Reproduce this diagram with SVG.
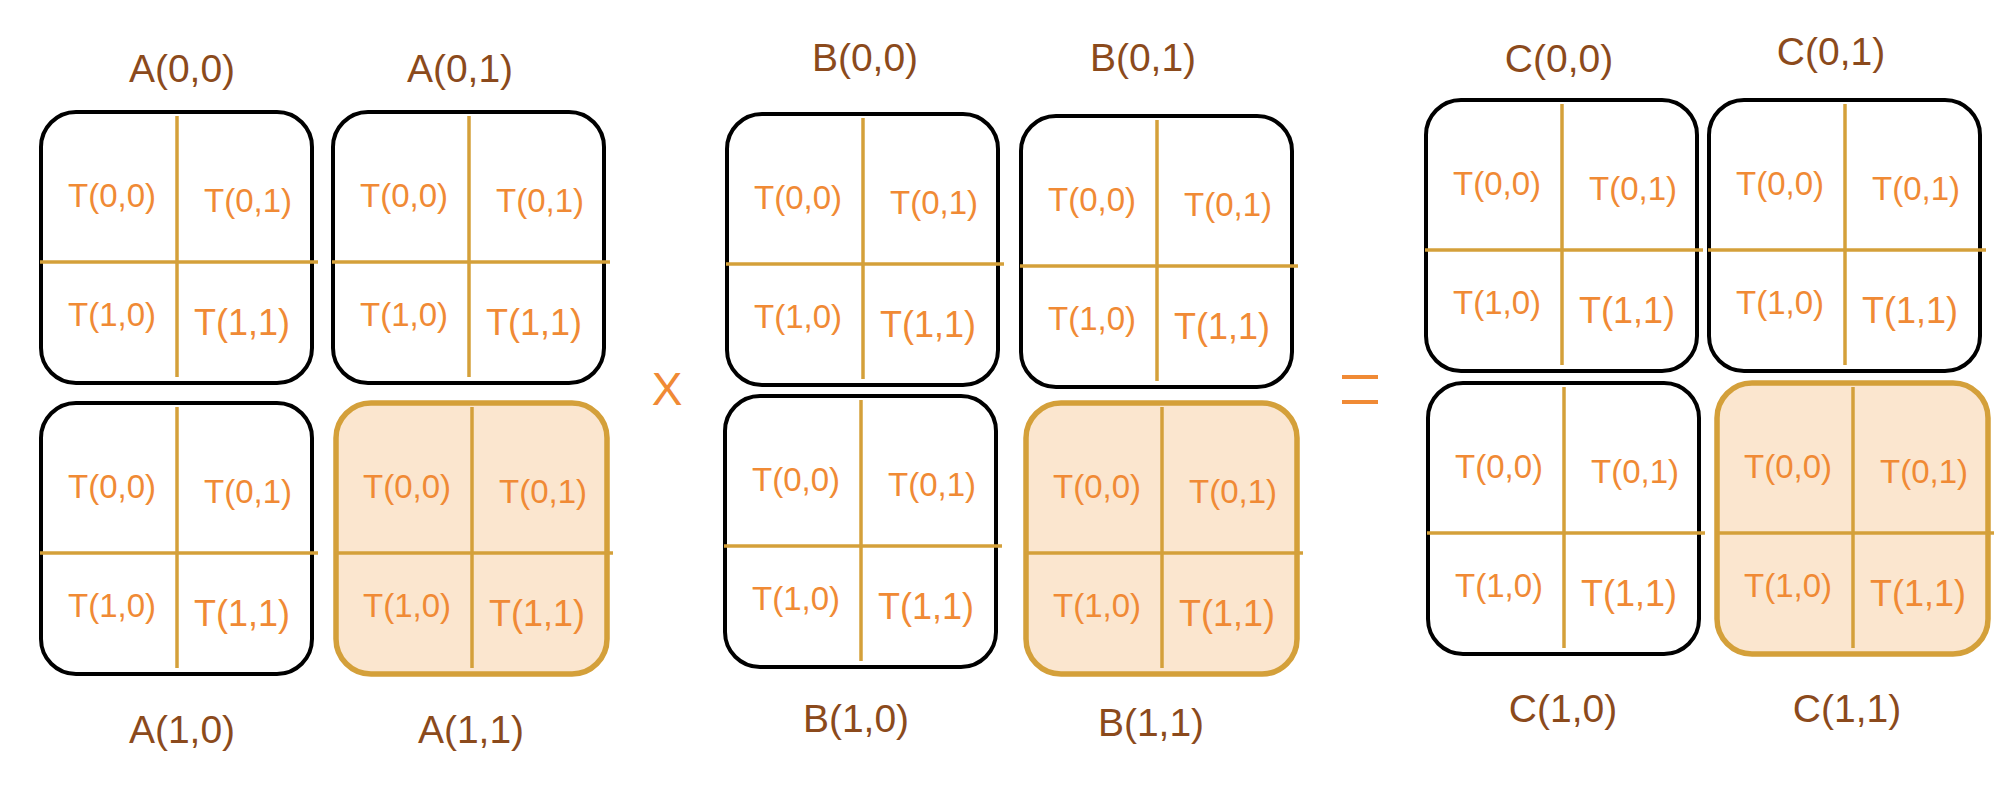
<svg xmlns="http://www.w3.org/2000/svg" width="2010" height="796" viewBox="0 0 2010 796">
<style>
.box{fill:#ffffff;stroke:#000000;stroke-width:4}
.hl .box{fill:#FBE6CF;stroke:#D4A03A;stroke-width:5.5}
.div{stroke:#D4A03A;stroke-width:3.5;fill:none}
.t{font-family:"Liberation Sans",Arial,Helvetica,sans-serif;font-size:33px;fill:#F08A35}
.t.big{font-size:36px}
.lbl{font-family:"Liberation Sans",Arial,Helvetica,sans-serif;font-size:39px;fill:#8B4A1C;text-anchor:middle}
.op{stroke:#F08A35;stroke-width:4;fill:none}
.opt{font-family:"Liberation Sans",Arial,Helvetica,sans-serif;font-size:46px;fill:#F08A35;text-anchor:middle}
</style>
<rect width="2010" height="796" fill="#ffffff"/>
<g id="connectors"></g>

<g id="A00" transform="translate(41,112)"><rect class="box" x="0" y="0" width="271" height="271" rx="35"/><line class="div" x1="136" y1="4" x2="136" y2="265"/><line class="div" x1="-1" y1="150" x2="277" y2="150"/><text class="t" x="27" y="95">T(0,0)</text><text class="t" x="163" y="100">T(0,1)</text><text class="t" x="27" y="214">T(1,0)</text><text class="t big" x="153" y="223">T(1,1)</text></g>
<g id="A01" transform="translate(333,112)"><rect class="box" x="0" y="0" width="271" height="271" rx="35"/><line class="div" x1="136" y1="4" x2="136" y2="265"/><line class="div" x1="-1" y1="150" x2="277" y2="150"/><text class="t" x="27" y="95">T(0,0)</text><text class="t" x="163" y="100">T(0,1)</text><text class="t" x="27" y="214">T(1,0)</text><text class="t big" x="153" y="223">T(1,1)</text></g>
<g id="A10" transform="translate(41,403)"><rect class="box" x="0" y="0" width="271" height="271" rx="35"/><line class="div" x1="136" y1="4" x2="136" y2="265"/><line class="div" x1="-1" y1="150" x2="277" y2="150"/><text class="t" x="27" y="95">T(0,0)</text><text class="t" x="163" y="100">T(0,1)</text><text class="t" x="27" y="214">T(1,0)</text><text class="t big" x="153" y="223">T(1,1)</text></g>
<g id="A11" class="hl" transform="translate(336,403)"><rect class="box" x="0" y="0" width="271" height="271" rx="35"/><line class="div" x1="136" y1="4" x2="136" y2="265"/><line class="div" x1="-1" y1="150" x2="277" y2="150"/><text class="t" x="27" y="95">T(0,0)</text><text class="t" x="163" y="100">T(0,1)</text><text class="t" x="27" y="214">T(1,0)</text><text class="t big" x="153" y="223">T(1,1)</text></g>

<g id="B00" transform="translate(727,114)"><rect class="box" x="0" y="0" width="271" height="271" rx="35"/><line class="div" x1="136" y1="4" x2="136" y2="265"/><line class="div" x1="-1" y1="150" x2="277" y2="150"/><text class="t" x="27" y="95">T(0,0)</text><text class="t" x="163" y="100">T(0,1)</text><text class="t" x="27" y="214">T(1,0)</text><text class="t big" x="153" y="223">T(1,1)</text></g>
<g id="B01" transform="translate(1021,116)"><rect class="box" x="0" y="0" width="271" height="271" rx="35"/><line class="div" x1="136" y1="4" x2="136" y2="265"/><line class="div" x1="-1" y1="150" x2="277" y2="150"/><text class="t" x="27" y="95">T(0,0)</text><text class="t" x="163" y="100">T(0,1)</text><text class="t" x="27" y="214">T(1,0)</text><text class="t big" x="153" y="223">T(1,1)</text></g>
<g id="B10" transform="translate(725,396)"><rect class="box" x="0" y="0" width="271" height="271" rx="35"/><line class="div" x1="136" y1="4" x2="136" y2="265"/><line class="div" x1="-1" y1="150" x2="277" y2="150"/><text class="t" x="27" y="95">T(0,0)</text><text class="t" x="163" y="100">T(0,1)</text><text class="t" x="27" y="214">T(1,0)</text><text class="t big" x="153" y="223">T(1,1)</text></g>
<g id="B11" class="hl" transform="translate(1026,403)"><rect class="box" x="0" y="0" width="271" height="271" rx="35"/><line class="div" x1="136" y1="4" x2="136" y2="265"/><line class="div" x1="-1" y1="150" x2="277" y2="150"/><text class="t" x="27" y="95">T(0,0)</text><text class="t" x="163" y="100">T(0,1)</text><text class="t" x="27" y="214">T(1,0)</text><text class="t big" x="153" y="223">T(1,1)</text></g>

<g id="C00" transform="translate(1426,100)"><rect class="box" x="0" y="0" width="271" height="271" rx="35"/><line class="div" x1="136" y1="4" x2="136" y2="265"/><line class="div" x1="-1" y1="150" x2="277" y2="150"/><text class="t" x="27" y="95">T(0,0)</text><text class="t" x="163" y="100">T(0,1)</text><text class="t" x="27" y="214">T(1,0)</text><text class="t big" x="153" y="223">T(1,1)</text></g>
<g id="C01" transform="translate(1709,100)"><rect class="box" x="0" y="0" width="271" height="271" rx="35"/><line class="div" x1="136" y1="4" x2="136" y2="265"/><line class="div" x1="-1" y1="150" x2="277" y2="150"/><text class="t" x="27" y="95">T(0,0)</text><text class="t" x="163" y="100">T(0,1)</text><text class="t" x="27" y="214">T(1,0)</text><text class="t big" x="153" y="223">T(1,1)</text></g>
<g id="C10" transform="translate(1428,383)"><rect class="box" x="0" y="0" width="271" height="271" rx="35"/><line class="div" x1="136" y1="4" x2="136" y2="265"/><line class="div" x1="-1" y1="150" x2="277" y2="150"/><text class="t" x="27" y="95">T(0,0)</text><text class="t" x="163" y="100">T(0,1)</text><text class="t" x="27" y="214">T(1,0)</text><text class="t big" x="153" y="223">T(1,1)</text></g>
<g id="C11" class="hl" transform="translate(1717,383)"><rect class="box" x="0" y="0" width="271" height="271" rx="35"/><line class="div" x1="136" y1="4" x2="136" y2="265"/><line class="div" x1="-1" y1="150" x2="277" y2="150"/><text class="t" x="27" y="95">T(0,0)</text><text class="t" x="163" y="100">T(0,1)</text><text class="t" x="27" y="214">T(1,0)</text><text class="t big" x="153" y="223">T(1,1)</text></g>

<g id="labels">
<text class="lbl" x="182" y="82">A(0,0)</text>
<text class="lbl" x="460" y="82">A(0,1)</text>
<text class="lbl" x="182" y="743">A(1,0)</text>
<text class="lbl" x="471" y="743">A(1,1)</text>
<text class="lbl" x="865" y="71">B(0,0)</text>
<text class="lbl" x="1143" y="71">B(0,1)</text>
<text class="lbl" x="856" y="732">B(1,0)</text>
<text class="lbl" x="1151" y="736">B(1,1)</text>
<text class="lbl" x="1559" y="72">C(0,0)</text>
<text class="lbl" x="1831" y="65">C(0,1)</text>
<text class="lbl" x="1563" y="722">C(1,0)</text>
<text class="lbl" x="1847" y="722">C(1,1)</text>
</g>

<g id="times"><text class="opt" x="667" y="405">X</text></g>
<g id="equals"><line class="op" x1="1342" y1="377" x2="1378" y2="377"/><line class="op" x1="1342" y1="402" x2="1378" y2="402"/></g>
</svg>
